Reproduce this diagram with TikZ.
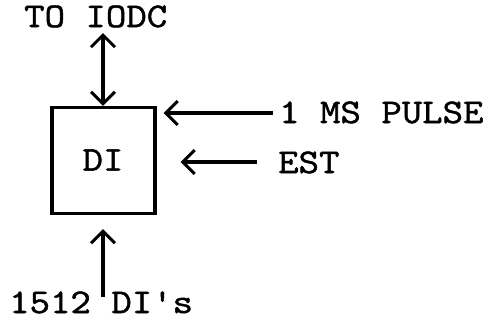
\documentclass[tikz,border=0pt]{standalone}
\usepackage{fontspec}
\setmonofont[FakeBold=1.5,FakeStretch=1.15]{Latin Modern Mono}
\usetikzlibrary{arrows.meta}
\begin{document}
\begin{tikzpicture}[x=1pt,y=-1pt,
  lbl/.style={font=\ttfamily\fontsize{34.5}{34.5}\selectfont, inner sep=0pt},
  arr/.style={line width=3.2pt, -{Straight Barb[length=12pt,width=24pt,line width=3pt]}},
  darr/.style={line width=3.2pt, {Straight Barb[length=12pt,width=24pt,line width=3pt]}-{Straight Barb[length=12pt,width=24pt,line width=3pt]}},
  boxst/.style={draw, line width=3.2pt, minimum width=103pt, minimum height=106pt, inner sep=0pt}]
\useasboundingbox (0,0) rectangle (488,325);
\node[boxst] (di) at (103.5,160.5) {};
\node[lbl] (ditext) at (103,160) {DI};
\node[lbl, anchor=base west] (iodc) at (24,27) {TO IODC};
\node[lbl, anchor=base west] (pulse) at (279,123) {1 MS PULSE};
\node[lbl, anchor=base west] (est) at (278,173) {EST};
\node[lbl, anchor=base west] (dis) at (9,313) {1512 DI's};
\coordinate (ttop) at (103,33);
\coordinate (ptail) at (273,113);
\coordinate (etail) at (257,162);
\coordinate (bbot) at (103,297);
\draw[darr] (ttop) -- (di.north -| ttop);
\draw[arr, shorten >=7pt] (ptail) -- (di.east |- ptail);
\draw[arr, shorten >=24pt] (etail) -- (di.east |- etail);
\draw[arr, shorten >=14pt] (bbot) -- (di.south -| bbot);
\end{tikzpicture}
\end{document}
